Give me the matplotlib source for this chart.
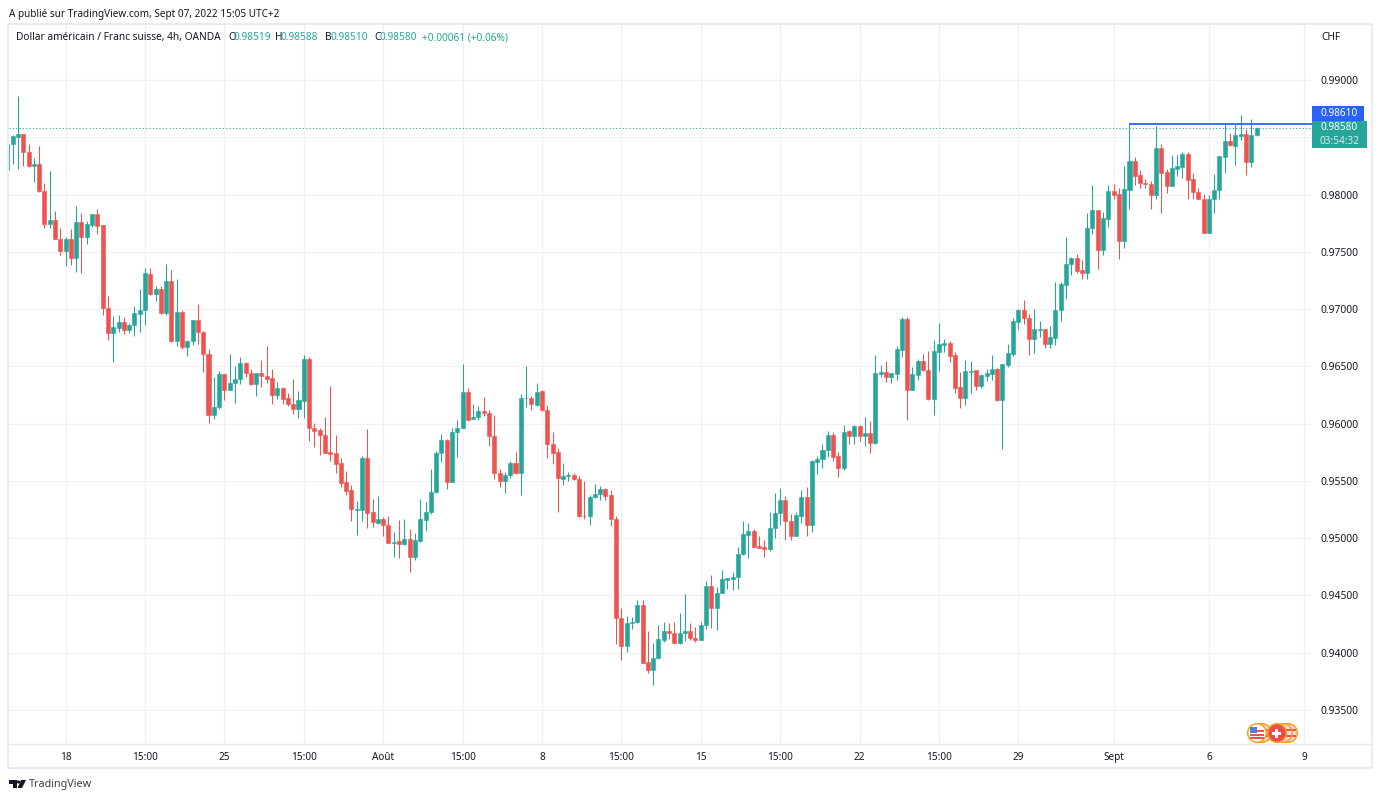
import numpy as np
import matplotlib
matplotlib.use("Agg")
import matplotlib.pyplot as plt
from matplotlib.patches import Rectangle, Circle, Polygon

# USD/CHF 4h candles, values in 1e-5 CHF, oldest candle first
opens = [98218,98445,98503,98526,98375,98247,98264,98032,97744,97776,
 97616,97506,97610,97450,97756,97631,97735,97831,97732,97006,
 96791,96837,96884,96820,96860,96959,96991,97308,97131,97171,
 96968,97247,96724,96974,96666,96724,96904,96799,96607,96078,
 96145,96433,96296,96352,96388,96527,96440,96350,96440,96417,
 96397,96246,96312,96225,96170,96129,96199,96565,95964,95943,
 95902,95748,95743,95658,95487,95420,95248,95248,95702,95225,
 95135,95164,95118,94961,94972,94946,94995,94839,94978,95161,
 95231,95400,95740,95859,95490,95923,95961,96272,96036,96054,
 96112,96095,95894,95568,95499,95554,95659,95566,96220,96225,
 96164,96281,96118,95824,95749,95519,95539,95551,95519,95196,
 95190,95359,95382,95432,95374,95170,94301,94060,94260,94266,
 94417,93917,93845,93952,94113,94186,94172,94081,94169,94192,
 94131,94113,94238,94579,94387,94520,94637,94642,94657,94858,
 95029,95061,94933,94924,94904,95093,95221,95334,95154,95017,
 95195,95355,95116,95669,95692,95767,95901,95718,95610,95933,
 95895,95980,95892,95916,95829,96436,96448,96410,96436,96645,
 96913,96294,96427,96547,96471,96212,96628,96686,96704,96596,
 96317,96227,96451,96465,96326,96419,96436,96480,96206,96512,
 96610,96887,96988,96924,96736,96820,96826,96695,96750,96988,
 97212,97390,97448,97340,97311,97704,97864,97515,97788,98035,
 98003,97596,98044,98297,98172,98105,98096,97994,98404,98195,
 98073,98227,98242,98352,98134,98026,97963,97660,97957,98038,
 98329,98471,98428,98512,98526,98282,98519]
highs = [98445,98517,98857,98532,98439,98323,98421,98102,98203,97855,
 97709,97625,97703,97901,97840,97773,97834,97872,97738,97110,
 96939,96948,96927,96875,97026,97171,97363,97363,97200,97200,
 97392,97340,97262,96994,96730,96904,97041,96805,96648,96410,
 96459,96433,96610,96503,96580,96539,96478,96440,96557,96679,
 96478,96365,96318,96266,96388,96286,96597,96580,96004,95966,
 96057,96327,95900,95702,95589,95466,95324,95719,95952,95341,
 95365,95187,95193,95057,95158,95167,95080,95048,95341,95312,
 95603,95760,95911,95868,95961,96034,96519,96310,96170,96150,
 96234,96118,96074,95603,95577,95673,95752,96257,96504,96240,
 96359,96292,96164,95926,95786,95659,95577,95566,95542,95502,
 95377,95472,95458,95438,95420,95196,94388,94318,94313,94458,
 94464,94188,94086,94240,94265,94259,94270,94349,94512,94256,
 94227,94270,94625,94680,94573,94724,94654,94703,94924,95148,
 95131,95081,95020,94980,95227,95395,95439,95372,95209,95227,
 95419,95448,95683,95718,95826,95936,95927,95756,95988,95945,
 95988,95988,96058,96023,96596,96512,96547,96442,96677,96927,
 96927,96494,96564,96605,96634,96727,96878,96736,96718,96625,
 96448,96552,96549,96471,96430,96477,96602,96486,96520,96695,
 96922,96997,97078,96956,97003,96895,96829,96849,97236,97236,
 97625,97456,97480,97427,97840,98082,97864,97849,98082,98096,
 98053,98247,98614,98326,98218,98140,98114,98596,98439,98221,
 98349,98343,98372,98372,98186,98061,98009,97994,98178,98335,
 98614,98541,98614,98695,98576,98657,98588]
lows = [98218,98264,98227,98247,98241,98110,98023,97709,97709,97613,
 97471,97372,97381,97325,97311,97567,97718,97654,96948,96727,
 96541,96796,96782,96788,96767,96802,96857,97122,97073,96959,
 96950,96712,96680,96654,96587,96686,96698,96450,96003,96043,
 96128,96209,96296,96183,96350,96405,96341,96237,96321,96356,
 96167,96214,96173,96158,96083,96051,96045,95844,95798,95728,
 95743,95676,95571,95449,95373,95150,95028,95153,95089,95097,
 95126,95016,94955,94836,94830,94943,94705,94807,94966,95059,
 95214,95391,95667,95429,95487,95705,95958,96028,96036,96028,
 96068,95807,95519,95443,95397,95528,95557,95379,96144,96121,
 96156,96112,95702,95650,95225,95467,95496,95510,95188,95170,
 95118,95353,95336,95336,95103,94080,93940,94010,94211,94263,
 93911,93827,93714,93949,94090,94119,94079,94079,94099,94113,
 94090,94110,94204,94218,94195,94517,94558,94549,94558,94855,
 94831,94916,94913,94834,94890,95003,95119,94980,94980,95015,
 95134,95020,95055,95564,95616,95712,95674,95535,95596,95826,
 95826,95849,95805,95744,95826,96410,96363,96355,96381,96581,
 96032,96291,96381,96456,96206,96079,96459,96622,96538,96265,
 96134,96163,96270,96294,96311,96372,96381,96201,95779,96494,
 96590,96826,96869,96602,96616,96756,96663,96657,96686,96895,
 97087,97297,97311,97262,97262,97654,97349,97471,97718,97957,
 97439,97535,97872,98082,98061,98061,97872,97960,97840,98015,
 98073,98160,98146,97957,97960,97957,97660,97660,97840,97957,
 98186,98425,98259,98474,98172,98239,98510]
closes = [98445,98509,98526,98375,98250,98264,98029,97747,97779,97616,
 97506,97610,97450,97756,97631,97741,97831,97727,97006,96791,
 96840,96884,96820,96860,96962,96994,97311,97128,97171,96968,
 97247,96721,96974,96666,96724,96904,96796,96607,96078,96148,
 96433,96296,96352,96387,96527,96440,96350,96440,96414,96391,
 96246,96312,96219,96167,96129,96205,96565,95961,95937,95897,
 95746,95737,95650,95484,95414,95251,95254,95702,95222,95138,
 95164,95115,94961,94969,94946,94995,94839,94981,95164,95231,
 95402,95743,95859,95493,95926,95961,96272,96034,96057,96112,
 96089,95891,95568,95499,95554,95659,95566,96225,96225,96167,
 96278,96115,95821,95746,95522,95542,95548,95513,95190,95190,
 95362,95385,95432,95371,95167,94301,94060,94260,94269,94417,
 93914,93845,93955,94118,94186,94169,94081,94172,94192,94128,
 94113,94241,94579,94390,94523,94640,94648,94660,94860,95032,
 95061,94927,94916,94904,95093,95224,95334,95151,95020,95201,
 95355,95119,95672,95695,95767,95901,95712,95613,95930,95895,
 95980,95895,95916,95829,96439,96448,96410,96439,96648,96913,
 96294,96433,96547,96465,96212,96634,96692,96704,96590,96311,
 96227,96456,96462,96328,96424,96439,96477,96206,96517,96616,
 96895,96988,96922,96736,96826,96826,96695,96756,96994,97218,
 97392,97448,97334,97311,97710,97864,97515,97794,98035,97994,
 97596,98047,98297,98166,98099,98090,97994,98404,98189,98073,
 98233,98250,98352,98128,98021,97957,97660,97963,98041,98335,
 98471,98431,98518,98526,98282,98518,98580]

x_tick_index = [10,25,40,55,70,85,100,115,130,145,160,175,190,208,226,244]
x_tick_labels = ["18","15:00","25","15:00","Août","15:00","8","15:00","15","15:00","22","15:00","29","Sept","6","9"]
y_ticks = [0.935,0.94,0.945,0.95,0.955,0.96,0.965,0.97,0.975,0.98,0.985,0.99]
y_tick_labels = ["0.93500","0.94000","0.94500","0.95000","0.95500","0.96000","0.96500","0.97000","0.97500","0.98000","","0.99000"]
level_price = 0.98615
last_price = 0.98580
level_start = 211

UP, DOWN = "#26a69a", "#ef5350"
GRID = "#f1f1f5"
TXT = "#131722"
BLUE = "#2962ff"
plt.rcParams["font.family"] = ["Noto Sans", "DejaVu Sans"]
FS = 7.2

W, H = 1381, 800
fig = plt.figure(figsize=(W/100, H/100), dpi=100, facecolor="white")
def rect(l, t, r, b):
    return [l/W, 1-b/H, (r-l)/W, (b-t)/H]

ax = fig.add_axes(rect(9, 24, 1312, 744))
o, h, l, c = [np.array(v)/1e5 for v in (opens, highs, lows, closes)]
x = np.arange(len(o)) - 1
cols = np.where(c >= o, UP, DOWN)
ax.set_axisbelow(True)
ax.grid(True, color=GRID, lw=0.9)
ax.vlines(x, l, h, colors=cols, lw=0.75, zorder=3)
ax.bar(x, np.abs(c-o), bottom=np.minimum(o, c), width=0.76, color=cols, edgecolor=cols, lw=0.4, zorder=4)
ax.set_xlim((9-12.67)/5.293, (1312-12.67)/5.293)
ax.set_ylim(0.99-664/11454, 0.99+56/11454)
ax.set_xticks(x_tick_index)
ax.set_xticklabels(x_tick_labels, fontsize=FS, color=TXT)
for t, s in zip(ax.get_xticklabels(), x_tick_labels):
    if s in ("Août", "Sept"):
        t.set_fontweight("bold")
ax.set_yticks(y_ticks)
ax.set_yticklabels(y_tick_labels, fontsize=7.4, color=TXT)
ax.yaxis.tick_right()
ax.tick_params(axis="both", length=0)
ax.tick_params(axis="y", pad=6.2)
ax.tick_params(axis="x", pad=6)
for s in ax.spines.values():
    s.set_visible(False)
ax.axhline(last_price, color=UP, lw=0.8, ls=(0, (1, 2)), zorder=5)
ax.plot([level_start, ax.get_xlim()[1]], [level_price, level_price], color=BLUE, lw=1.3, zorder=6, solid_capstyle="butt")

# overlay in pixel coordinates for panel frame, tags, logo and badges
ov = fig.add_axes([0, 0, 1, 1], facecolor="none")
ov.set_xlim(0, W); ov.set_ylim(H, 0); ov.axis("off")
BORDER = "#e6e8f0"
ov.add_patch(Rectangle((8.5, 24), 1364, 744, fill=False, ec=BORDER, lw=1.2))
ov.plot([9, 1372], [744, 744], color=BORDER, lw=1)

def T(px, py, s, color=TXT, ha="left", size=FS, **kw):
    return ov.text(px, py+1, s, color=color, ha=ha, va="center", fontsize=size, **kw)

T(9, 13, "A publié sur TradingView.com, Sept 07, 2022 15:05 UTC+2", size=7.2)
T(16, 36.5, "Dollar américain / Franc suisse, 4h, OANDA", size=7.3)
for px, lab, val in [(228, "O", "0.98519"), (275, "H", "0.98588"), (325, "B", "0.98510"), (374, "C", "0.98580")]:
    T(px, 36.5, lab, size=7.3)
    T(px+6, 36.5, val, color=UP, size=7.3)
T(422, 36.5, "+0.00061 (+0.06%)", color=UP, size=7.3)
T(1321, 36.5, "CHF", size=7.3)

ov.add_patch(Rectangle((1312, 106), 52, 15, fc=BLUE, ec="none", zorder=7))
ov.add_patch(Rectangle((1312, 121), 55.5, 27, fc=UP, ec="none", zorder=7))
T(1339.5, 112.5, "0.98610", color="white", ha="center", size=7.2, zorder=8, fontweight="bold")
T(1339.5, 127, "0.98580", color="white", ha="center", size=7.2, zorder=8, fontweight="bold")
T(1339.5, 140, "03:54:32", color="#d4eeeb", ha="center", size=7.2, zorder=8)

# currency badges
for cx in (1288, 1283, 1262):
    ov.add_patch(Circle((cx, 733), 9.3, fc="#f8d9d9", ec="#f7a11f", lw=1.1, zorder=6))
    ov.add_patch(Rectangle((cx+3, 729), 5, 2, fc="#ef5350", ec="none", zorder=6))
    ov.add_patch(Rectangle((cx+3, 735), 5, 2, fc="#ef5350", ec="none", zorder=6))
ov.add_patch(Circle((1257, 733), 9.3, fc="white", ec="#f7a11f", lw=1.1, zorder=7))
for yy, hh in ((729.5, 2), (733.5, 2), (737, 1.8)):
    ov.add_patch(Rectangle((1250, yy), 14.5, hh, fc="#ef5350", ec="none", zorder=8))
ov.add_patch(Rectangle((1250.5, 727), 7, 6, fc="#4a7fe0", ec="none", zorder=9))
ov.add_patch(Circle((1277, 733), 9.3, fc="#ef4b4b", ec="#f7a11f", lw=1.1, zorder=9))
ov.add_patch(Rectangle((1275.5, 728.5), 3, 9, fc="white", ec="none", zorder=10))
ov.add_patch(Rectangle((1272.5, 731.5), 9, 3, fc="white", ec="none", zorder=10))

# logo
LOGO = "#131722"
ov.add_patch(Polygon([(9, 780), (17, 780), (17, 788), (13, 788), (13, 783.5), (9, 783.5)], fc=LOGO, ec="none"))
ov.add_patch(Circle((18.5, 782), 1.6, fc=LOGO, ec="none"))
ov.add_patch(Polygon([(21, 780), (26, 780), (22, 788), (17.5, 788)], fc=LOGO, ec="none"))
T(29, 784, "TradingView", color="#3a3e4a", size=7.8)

fig.savefig("out.png", dpi=100)
